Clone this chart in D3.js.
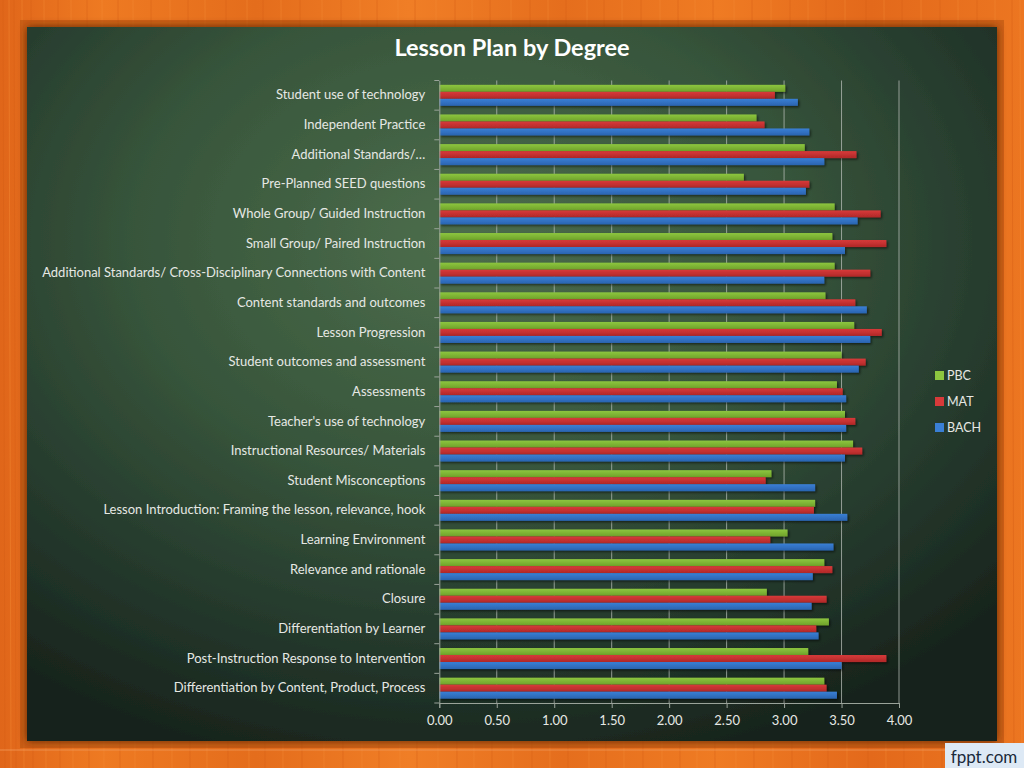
<!DOCTYPE html>
<html>
<head>
<meta charset="utf-8">
<script src="https://cdn.jsdelivr.net/npm/d3@7"></script>
<style>
html,body{margin:0;padding:0;background:#e8731a;}
svg{display:block;}
text{font-family:Lato,"Open Sans",sans-serif;}
</style>
</head>
<body>
<svg id="chart" width="1024" height="768"></svg>
<script>
const categories = [
  "Student use of technology",
  "Independent Practice",
  "Additional Standards/…",
  "Pre-Planned SEED questions",
  "Whole Group/ Guided Instruction",
  "Small Group/ Paired Instruction",
  "Additional Standards/ Cross-Disciplinary Connections with Content",
  "Content standards and outcomes",
  "Lesson Progression",
  "Student outcomes and assessment",
  "Assessments",
  "Teacher's use of technology",
  "Instructional Resources/ Materials",
  "Student Misconceptions",
  "Lesson Introduction: Framing the lesson, relevance, hook",
  "Learning Environment",
  "Relevance and rationale",
  "Closure",
  "Differentiation by Learner",
  "Post-Instruction Response to Intervention",
  "Differentiation by Content, Product, Process"
];
const seriesNames = ["PBC", "MAT", "BACH"];
const PBC  = [3.01,2.76,3.18,2.65,3.44,3.42,3.44,3.36,3.61,3.50,3.46,3.53,3.60,2.89,3.27,3.03,3.35,2.85,3.39,3.21,3.35];
const MAT  = [2.92,2.83,3.63,3.22,3.84,3.89,3.75,3.62,3.85,3.71,3.51,3.62,3.68,2.84,3.26,2.88,3.42,3.37,3.28,3.89,3.37];
const BACH = [3.12,3.22,3.35,3.19,3.64,3.53,3.35,3.72,3.75,3.65,3.54,3.54,3.53,3.27,3.55,3.43,3.25,3.24,3.30,3.50,3.46];
const xTicks = [0,0.5,1,1.5,2,2.5,3,3.5,4];
const colors = {PBC:"#8dc63f", MAT:"#d83a3a", BACH:"#3a7fd5"};
const colorsDark = {PBC:"#6fa22a", MAT:"#b02828", BACH:"#2a64b0"};

const data = categories.map((c,i)=>({cat:c, PBC:PBC[i], MAT:MAT[i], BACH:BACH[i]}));

const svg = d3.select("#chart");
const defs = svg.append("defs");

// wood frame
const wood = defs.append("linearGradient").attr("id","wood").attr("x1","0").attr("x2","1").attr("y1","0").attr("y2","0");
[[0,"#e0661a"],[0.1,"#ee7a22"],[0.25,"#e46d1c"],[0.4,"#f07e26"],[0.55,"#e56e1d"],[0.7,"#ef7b23"],[0.85,"#e3691b"],[1,"#ec7621"]]
  .forEach(s=>wood.append("stop").attr("offset",s[0]).attr("stop-color",s[1]));
const boardG = defs.append("radialGradient").attr("id","board").attr("cx","0.45").attr("cy","0.3").attr("r","0.75");
[[0,"#4d6e4c"],[0.45,"#37553b"],[0.8,"#22352a"],[1,"#18241c"]]
  .forEach(s=>boardG.append("stop").attr("offset",s[0]).attr("stop-color",s[1]));

const bevel = defs.append("filter").attr("id","bevel").attr("x","-5%").attr("y","-5%").attr("width","110%").attr("height","110%");
bevel.append("feDropShadow").attr("dx",0).attr("dy",0).attr("stdDeviation",4).attr("flood-color","#5a2206").attr("flood-opacity",0.9);

const shadow = defs.append("filter").attr("id","barShadow").attr("x","-5%").attr("y","-50%").attr("width","115%").attr("height","250%");
shadow.append("feDropShadow").attr("dx",1.5).attr("dy",1.5).attr("stdDeviation",1).attr("flood-color","#000").attr("flood-opacity",0.55);

Object.keys(colors).forEach(k=>{
  const g = defs.append("linearGradient").attr("id","g"+k).attr("x1","0").attr("x2","0").attr("y1","0").attr("y2","1");
  g.append("stop").attr("offset",0).attr("stop-color",colors[k]);
  g.append("stop").attr("offset",1).attr("stop-color",colorsDark[k]);
});

svg.append("rect").attr("width",1024).attr("height",768).attr("fill","url(#wood)");
// wood grain lines
const grain = [3,9,14,22,31,44,58,71,87,102,118,133,151,170,188,205,226,247,263,281,300,322,341,360,377,398,415,436,455,472,490,511,530,548,566,587,604,622,641,660,678,695,713,734,752,771,790,808,826,845,866,884,902,921,940,958,977,995,1012,1020];
svg.append("g").selectAll("line").data(grain).join("line")
  .attr("x1",d=>d).attr("x2",d=>d+2).attr("y1",0).attr("y2",768)
  .attr("stroke",(d,i)=>i%2?"#f38a34":"#d55e16").attr("stroke-width",1).attr("opacity",0.45);
svg.append("line").attr("x1",0).attr("x2",1024).attr("y1",750).attr("y2",750).attr("stroke","#f5a060").attr("stroke-width",1).attr("opacity",0.7);
// inner bevel shade
svg.append("rect").attr("x",20).attr("y",20).attr("width",984).attr("height",728).attr("fill","#b4520f").attr("opacity",0.55);
svg.append("rect").attr("x",27).attr("y",27).attr("width",970).attr("height",714).attr("fill","url(#board)").attr("filter","url(#bevel)");

// chart
const margin = {left:439.3, right:899, top:80.5, bottom:703};
const x = d3.scaleLinear().domain([0,4]).range([margin.left, margin.right]);
const y = d3.scaleBand().domain(categories).range([margin.top, margin.bottom]).paddingInner(0).paddingOuter(0);
const inner2 = d3.scaleBand().domain(seriesNames).range([0, 21]).padding(0);
const yOff = (y.bandwidth()-21)/2;

// gridlines
svg.append("g").selectAll("line").data(xTicks.slice(1)).join("line")
  .attr("x1",d=>x(d)).attr("x2",d=>x(d)).attr("y1",margin.top).attr("y2",margin.bottom)
  .attr("stroke","#b8beb8").attr("stroke-width",1).attr("opacity",0.75);

// bars
const groups = svg.append("g").selectAll("g").data(data).join("g")
  .attr("transform",d=>`translate(0,${y(d.cat)+yOff})`);
groups.selectAll("rect").data(d=>seriesNames.map(s=>({s, v:d[s]}))).join("rect")
  .attr("x",x(0)).attr("y",d=>inner2(d.s)).attr("height",inner2.bandwidth())
  .attr("width",d=>x(d.v)-x(0)).attr("fill",d=>`url(#g${d.s})`).attr("filter","url(#barShadow)");

// axes
const yAxis = svg.append("g").attr("transform",`translate(${margin.left},0)`)
  .call(d3.axisLeft(y).tickSize(0).tickPadding(14));
yAxis.select(".domain").attr("stroke","#9aa39a");
yAxis.selectAll("text").attr("fill","#e6e8e4").attr("font-size","13px");
svg.append("g").selectAll("line").data(d3.range(categories.length+1)).join("line")
  .attr("x1",margin.left-5).attr("x2",margin.left)
  .attr("y1",i=>margin.top + i*y.step()).attr("y2",i=>margin.top + i*y.step())
  .attr("stroke","#9aa39a");

const xAxis = svg.append("g").attr("transform",`translate(0,${margin.bottom})`)
  .call(d3.axisBottom(x).tickValues(xTicks).tickFormat(d3.format(".2f")).tickSize(5).tickPadding(8));
xAxis.select(".domain").attr("stroke","#9aa39a");
xAxis.selectAll("line").attr("stroke","#9aa39a");
xAxis.selectAll("text").attr("fill","#e6e8e4").attr("font-size","13px");

// title
svg.append("text").attr("x",512).attr("y",56).attr("text-anchor","middle")
  .attr("fill","#ffffff").attr("font-size","23.5px").attr("font-weight","bold").text("Lesson Plan by Degree");

// legend
const leg = svg.append("g").selectAll("g").data(seriesNames).join("g")
  .attr("transform",(d,i)=>`translate(935,${371 + i*26})`);
leg.append("rect").attr("width",9).attr("height",9).attr("fill",d=>colors[d]);
leg.append("text").attr("x",12).attr("y",9).attr("fill","#e6e8e4").attr("font-size","12.5px").text(d=>d);

// badge
svg.append("rect").attr("x",945).attr("y",743).attr("width",79).attr("height",25).attr("fill","#dde9f5");
svg.append("text").attr("x",984).attr("y",763).attr("text-anchor","middle").attr("fill","#1a2a3a")
  .attr("font-size","17px").attr("font-family","'Open Sans',sans-serif").text("fppt.com");
</script>
</body>
</html>
